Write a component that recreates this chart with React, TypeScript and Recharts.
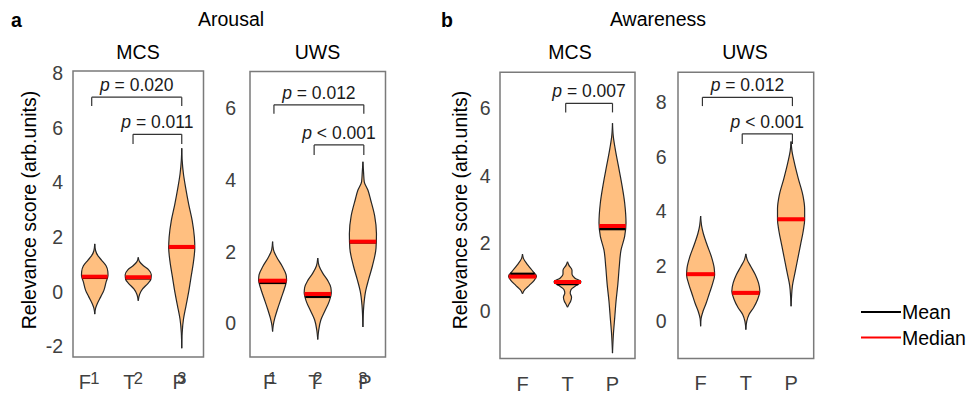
import React from "react";
import {
  ComposedChart,
  Area,
  XAxis,
  YAxis,
  ReferenceArea,
  ReferenceLine,
} from "recharts";

// violin outline as [score, half-width] pairs, listed from top tip to bottom tip
type Profile = [number, number][];

type Test = { from: number; to: number; top: number; foot: number; label: string };

const CATEGORIES = ["F", "T", "P"];
const CATEGORY_NUMBERS = ["1", "2", "3"];

// Arousal / MCS
const AROUSAL_MCS_F: Profile = [
  [1.75, 0], [1.5, 0.02], [1.3, 0.08], [1.15, 0.16], [0.95, 0.26], [0.75, 0.3],
  [0.6, 0.305], [0.35, 0.26], [0.05, 0.21], [-0.18, 0.14], [-0.43, 0.06], [-0.6, 0.02], [-0.82, 0],
];
const AROUSAL_MCS_T: Profile = [
  [1.26, 0], [1.1, 0.03], [0.95, 0.12], [0.8, 0.24], [0.62, 0.3], [0.45, 0.29],
  [0.3, 0.22], [0.1, 0.1], [-0.1, 0.03], [-0.33, 0],
];
const AROUSAL_MCS_P: Profile = [
  [5.25, 0], [4.8, 0.01], [4.3, 0.04], [3.8, 0.09], [3.2, 0.16], [2.6, 0.24], [2.0, 0.29],
  [1.6, 0.3], [1.1, 0.27], [0.5, 0.21], [0.0, 0.16], [-0.5, 0.1], [-1.0, 0.04], [-1.5, 0.01], [-2.07, 0],
];
const AROUSAL_MCS_MEAN = [0.51, 0.49, 1.62];
const AROUSAL_MCS_MEDIAN = [0.55, 0.53, 1.64];
const AROUSAL_MCS_TESTS: Test[] = [
  { from: 0.93, to: 3, top: 7.12, foot: 6.8, label: "= 0.020" },
  { from: 1.88, to: 3, top: 5.76, foot: 5.41, label: "= 0.011" },
];

// Arousal / UWS
const AROUSAL_UWS_F: Profile = [
  [2.28, 0], [2.05, 0.02], [1.85, 0.09], [1.6, 0.21], [1.35, 0.3], [1.2, 0.31], [1.0, 0.27],
  [0.7, 0.19], [0.4, 0.11], [0.15, 0.05], [-0.05, 0.015], [-0.23, 0],
];
const AROUSAL_UWS_T: Profile = [
  [1.82, 0], [1.6, 0.03], [1.4, 0.11], [1.2, 0.22], [1.0, 0.29], [0.85, 0.3], [0.6, 0.25],
  [0.35, 0.16], [0.1, 0.07], [-0.2, 0.02], [-0.45, 0],
];
const AROUSAL_UWS_P: Profile = [
  [4.51, 0], [4.2, 0.015], [3.95, 0.03], [3.72, 0.11], [3.45, 0.17], [3.0, 0.26], [2.5, 0.3],
  [2.1, 0.29], [1.6, 0.21], [1.2, 0.12], [0.9, 0.06], [0.5, 0.02], [-0.1, 0],
];
const AROUSAL_UWS_MEAN = [1.13, 0.74, 2.26];
const AROUSAL_UWS_MEDIAN = [1.19, 0.82, 2.28];
const AROUSAL_UWS_TESTS: Test[] = [
  { from: 1.03, to: 3.02, top: 6.1, foot: 5.85, label: "= 0.012" },
  { from: 1.92, to: 3.02, top: 4.98, foot: 4.7, label: "< 0.001" },
];

// Awareness / MCS
const AWARENESS_MCS_F: Profile = [
  [1.68, 0], [1.55, 0.02], [1.35, 0.12], [1.15, 0.24], [1.02, 0.31], [0.9, 0.26],
  [0.75, 0.15], [0.62, 0.05], [0.5, 0],
];
const AWARENESS_MCS_T: Profile = [
  [1.45, 0], [1.35, 0.03], [1.2, 0.1], [1.08, 0.1], [0.97, 0.16], [0.85, 0.3], [0.75, 0.2],
  [0.63, 0.08], [0.52, 0.06], [0.4, 0.09], [0.28, 0.07], [0.18, 0.03], [0.1, 0],
];
const AWARENESS_MCS_P: Profile = [
  [5.56, 0], [5.2, 0.015], [4.8, 0.06], [4.3, 0.13], [3.8, 0.2], [3.2, 0.27], [2.6, 0.3],
  [2.2, 0.27], [1.8, 0.19], [1.3, 0.15], [0.8, 0.12], [0.3, 0.08], [-0.2, 0.05], [-0.7, 0.02], [-1.26, 0],
];
const AWARENESS_MCS_MEAN = [1.09, 0.79, 2.42];
const AWARENESS_MCS_MEDIAN = [1.01, 0.85, 2.51];
const AWARENESS_MCS_TESTS: Test[] = [
  { from: 1.96, to: 3.0, top: 6.15, foot: 5.88, label: "= 0.007" },
];

// Awareness / UWS
const AWARENESS_UWS_F: Profile = [
  [3.84, 0], [3.5, 0.02], [3.2, 0.06], [2.8, 0.14], [2.35, 0.24], [1.95, 0.3], [1.7, 0.31],
  [1.35, 0.26], [1.0, 0.19], [0.65, 0.12], [0.35, 0.05], [0.1, 0.01], [-0.18, 0],
];
const AWARENESS_UWS_T: Profile = [
  [2.46, 0], [2.25, 0.03], [2.0, 0.11], [1.7, 0.21], [1.4, 0.28], [1.1, 0.31], [0.8, 0.26],
  [0.5, 0.17], [0.25, 0.07], [0.0, 0.02], [-0.3, 0],
];
const AWARENESS_UWS_P: Profile = [
  [6.55, 0], [6.2, 0.02], [5.8, 0.07], [5.2, 0.16], [4.6, 0.26], [4.1, 0.3], [3.7, 0.3],
  [3.3, 0.27], [2.8, 0.21], [2.3, 0.15], [1.8, 0.09], [1.3, 0.03], [0.9, 0.01], [0.55, 0],
];
const AWARENESS_UWS_MEAN = [1.7, 1.03, 3.7];
const AWARENESS_UWS_MEDIAN = [1.72, 1.04, 3.72];
const AWARENESS_UWS_TESTS: Test[] = [
  { from: 1.04, to: 3.03, top: 8.16, foot: 7.84, label: "= 0.012" },
  { from: 1.92, to: 3.03, top: 6.83, foot: 6.46, label: "< 0.001" },
];

const FONT = "'Liberation Sans', Arial, sans-serif";
const FS = 19.5;
const VIOLIN_FILL = "#FFBF80";
const TICK_COLOR = "#404040";
const AXIS_W = 55;
const XAXIS_H = 30;
const H = 396;

// violin half-width at a given score, used to size the mean/median bars
function halfWidthAt(profile: Profile, v: number) {
  for (let i = 0; i < profile.length - 1; i++) {
    const [y0, w0] = profile[i];
    const [y1, w1] = profile[i + 1];
    if (v <= y0 && v >= y1) return w0 + ((v - y0) / (y1 - y0)) * (w1 - w0);
  }
  return 0;
}

const pLabel = (text: string) => (props: any) => {
  const vb = props.viewBox;
  return (
    <text x={vb.x + vb.width / 2} y={vb.y - 6} textAnchor="middle" fontSize={17.5} fill="#1a1a1a">
      <tspan fontStyle="italic">p</tspan>
      {" " + text}
    </text>
  );
};

const CategoryTick = (props: any) => {
  const { x, y, payload, shift, numbered } = props;
  const i = Math.round(payload.value) - 1;
  return (
    <g>
      <text x={x + (shift ? shift[i] : 0)} y={y + 32} textAnchor="middle" fontSize={20} fill={TICK_COLOR}>
        {CATEGORIES[i]}
      </text>
      {numbered && (
        <text x={x} y={y + 27} textAnchor="middle" fontSize={16.5} fill={TICK_COLOR}>
          {CATEGORY_NUMBERS[i]}
        </text>
      )}
    </g>
  );
};

interface PanelProps {
  violins: Profile[];
  mean: number[];
  median: number[];
  tests: Test[];
  yDomain: [number, number];
  yTicks: number[];
  box: { left: number; right: number; top: number; bottom: number };
  tickGap: number;
  letterShift?: number[];
  numbered?: boolean;
}

const ViolinPanel: React.FC<PanelProps> = ({
  violins, mean, median, tests, yDomain, yTicks, box, tickGap, letterShift, numbered,
}) => {
  const width = box.right - box.left + AXIS_W + 6;
  return (
    <div style={{ position: "absolute", left: box.left - AXIS_W, top: 0 }}>
      <ComposedChart
        layout="vertical"
        width={width}
        height={H}
        margin={{ top: box.top, right: 6, bottom: H - box.bottom - XAXIS_H, left: 0 }}
      >
        <XAxis
          type="number"
          domain={[0.5, 3.5]}
          ticks={[1, 2, 3]}
          interval={0}
          allowDataOverflow
          axisLine={false}
          tickLine={false}
          tickSize={0}
          tickMargin={0}
          height={XAXIS_H}
          tick={(p: any) => <CategoryTick {...p} shift={letterShift} numbered={numbered} />}
        />
        {/* vertical layout puts the first value at the top, so flip it */}
        <YAxis
          type="number"
          dataKey="y"
          reversed
          domain={yDomain}
          ticks={yTicks}
          interval={0}
          allowDataOverflow
          axisLine={false}
          tickLine={false}
          tickSize={0}
          tickMargin={tickGap}
          width={AXIS_W}
          tick={{ fill: TICK_COLOR, fontSize: FS }}
        />
        {/* panel frame */}
        <ReferenceArea
          x1={0.5}
          x2={3.5}
          y1={yDomain[0]}
          y2={yDomain[1]}
          fill="none"
          fillOpacity={0}
          stroke="#7a7a7a"
          strokeWidth={1.5}
          ifOverflow="visible"
        />
        {violins.map((profile, i) => (
          <Area
            key={"v" + i}
            data={profile.map(([y, w]) => ({ y, r: [i + 1 - w, i + 1 + w] }))}
            dataKey="r"
            type="monotone"
            fill={VIOLIN_FILL}
            fillOpacity={1}
            stroke="#262626"
            strokeWidth={1.2}
            dot={false}
            activeDot={false}
            isAnimationActive={false}
          />
        ))}
        {mean.map((m, i) => {
          const w = halfWidthAt(violins[i], m);
          return (
            <ReferenceLine
              key={"mean" + i}
              segment={[{ x: i + 1 - w, y: m }, { x: i + 1 + w, y: m }]}
              stroke="#000"
              strokeWidth={2.5}
            />
          );
        })}
        {median.map((m, i) => {
          const w = halfWidthAt(violins[i], m);
          return (
            <ReferenceLine
              key={"med" + i}
              segment={[{ x: i + 1 - w, y: m }, { x: i + 1 + w, y: m }]}
              stroke="#ff0000"
              strokeWidth={4}
            />
          );
        })}
        {tests.flatMap((t, i) => [
          <ReferenceLine
            key={"tl" + i}
            segment={[{ x: t.from, y: t.foot }, { x: t.from, y: t.top }]}
            stroke="#333"
            strokeWidth={1.2}
          />,
          <ReferenceLine
            key={"tr" + i}
            segment={[{ x: t.to, y: t.foot }, { x: t.to, y: t.top }]}
            stroke="#333"
            strokeWidth={1.2}
          />,
          <ReferenceLine
            key={"tt" + i}
            segment={[{ x: t.from, y: t.top }, { x: t.to, y: t.top }]}
            stroke="#333"
            strokeWidth={1.2}
            label={pLabel(t.label)}
          />,
        ])}
      </ComposedChart>
    </div>
  );
};

export default function App() {
  return (
    <div
      style={{
        position: "absolute",
        left: 0,
        top: 0,
        width: 969,
        height: H,
        background: "#fff",
        fontFamily: FONT,
        overflow: "hidden",
      }}
    >
      <ViolinPanel
        violins={[AROUSAL_MCS_F, AROUSAL_MCS_T, AROUSAL_MCS_P]}
        mean={AROUSAL_MCS_MEAN}
        median={AROUSAL_MCS_MEDIAN}
        tests={AROUSAL_MCS_TESTS}
        yDomain={[-2.39, 8.08]}
        yTicks={[-2, 0, 2, 4, 6, 8]}
        box={{ left: 73, right: 203.5, top: 71, bottom: 357 }}
        tickGap={10}
        letterShift={[-10, -9, -2.5]}
        numbered
      />
      <ViolinPanel
        violins={[AROUSAL_UWS_F, AROUSAL_UWS_T, AROUSAL_UWS_P]}
        mean={AROUSAL_UWS_MEAN}
        median={AROUSAL_UWS_MEDIAN}
        tests={AROUSAL_UWS_TESTS}
        yDomain={[-0.94, 7.03]}
        yTicks={[0, 2, 4, 6]}
        box={{ left: 250, right: 385.5, top: 71.5, bottom: 357 }}
        tickGap={14}
        letterShift={[-3.5, -3.5, 2]}
        numbered
      />
      <ViolinPanel
        violins={[AWARENESS_MCS_F, AWARENESS_MCS_T, AWARENESS_MCS_P]}
        mean={AWARENESS_MCS_MEAN}
        median={AWARENESS_MCS_MEDIAN}
        tests={AWARENESS_MCS_TESTS}
        yDomain={[-1.42, 7.07]}
        yTicks={[0, 2, 4, 6]}
        box={{ left: 500, right: 635, top: 72.3, bottom: 358.5 }}
        tickGap={9.5}
      />
      <ViolinPanel
        violins={[AWARENESS_UWS_F, AWARENESS_UWS_T, AWARENESS_UWS_P]}
        mean={AWARENESS_UWS_MEAN}
        median={AWARENESS_UWS_MEDIAN}
        tests={AWARENESS_UWS_TESTS}
        yDomain={[-1.35, 9.07]}
        yTicks={[0, 2, 4, 6, 8]}
        box={{ left: 678.3, right: 814, top: 72.3, bottom: 358.5 }}
        tickGap={11.5}
      />

      {/* titles, axis labels and legend */}
      <svg
        width={969}
        height={H}
        style={{ position: "absolute", left: 0, top: 0, pointerEvents: "none" }}
        fontFamily={FONT}
        fontSize={FS}
      >
        <text x={11} y={27} fontWeight="bold">a</text>
        <text x={231} y={25.5} textAnchor="middle">Arousal</text>
        <text x={441} y={27} fontWeight="bold">b</text>
        <text x={658} y={25.5} textAnchor="middle">Awareness</text>

        <text x={138} y={59} textAnchor="middle">MCS</text>
        <text x={317.5} y={59} textAnchor="middle">UWS</text>
        <text x={570} y={59} textAnchor="middle">MCS</text>
        <text x={745} y={59} textAnchor="middle">UWS</text>

        <text transform="translate(29,210) rotate(-90)" textAnchor="middle" dy="0.35em">
          Relevance score (arb.units)
        </text>
        <text transform="translate(460,210) rotate(-90)" textAnchor="middle" dy="0.35em">
          Relevance score (arb.units)
        </text>

        <line x1={861} x2={901} y1={312} y2={312} stroke="#000" strokeWidth={2} />
        <text x={902} y={319}>Mean</text>
        <line x1={861} x2={901} y1={337.5} y2={337.5} stroke="#ff0000" strokeWidth={2} />
        <text x={902} y={344.5}>Median</text>
      </svg>
    </div>
  );
}
